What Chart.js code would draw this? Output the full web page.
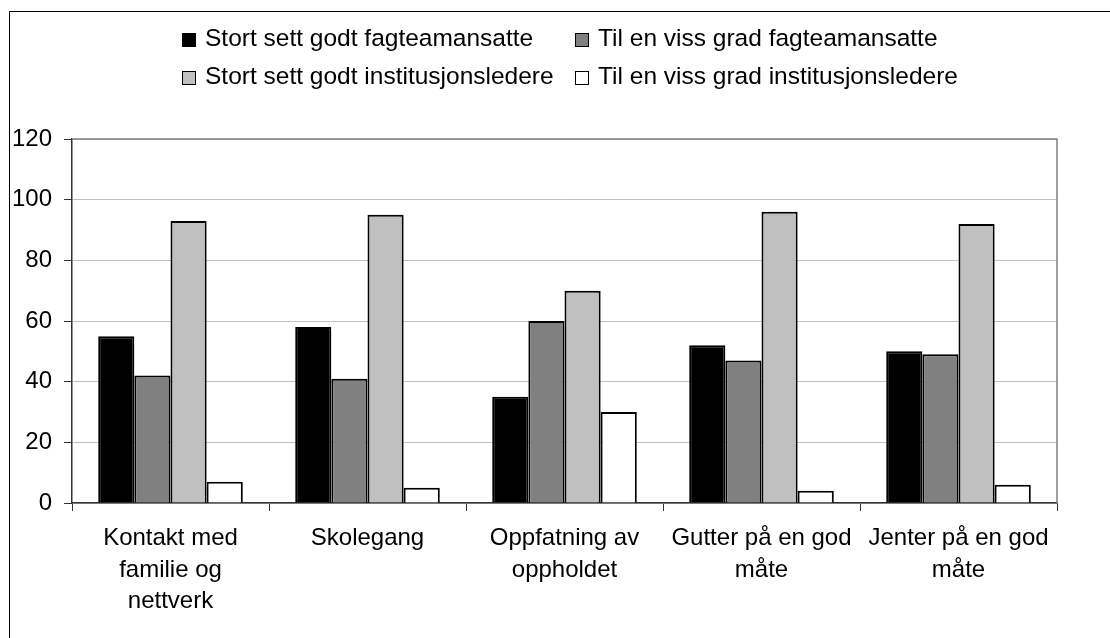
<!DOCTYPE html>
<html>
<head>
<meta charset="utf-8">
<script src="https://cdn.jsdelivr.net/npm/chart.js@4"></script>
<style>
  html, body { margin: 0; padding: 0; background: #fff; }
  body { width: 1110px; height: 638px; position: relative; overflow: hidden; font-family: "Liberation Sans", Arial, sans-serif; }
  #frame { position: absolute; left: 9px; top: 11px; width: 1200px; height: 700px; border-left: 1px solid #000; border-top: 1px solid #000; }
  #chart-box { position: absolute; left: 0; top: 0; width: 1110px; height: 638px; }
  #legend { position: absolute; left: 182px; top: 22px; display: grid; grid-template-columns: 393px auto; row-gap: 6px; font-size: 24.5px; color: #000; }
  .item { display: flex; align-items: center; height: 32px; white-space: nowrap; }
  .swatch { width: 12px; height: 12px; border: 1px solid #000; margin-right: 9px; margin-top: 3px; }
</style>
</head>
<body>
<div id="frame"></div>
<div id="chart-box"><canvas id="chart"></canvas></div>
<div id="legend"></div>
<script>
// Categories (x axis), one entry per group of bars
const categories = [
  ["Kontakt med", "familie og", "nettverk"],
  "Skolegang",
  ["Oppfatning av", "oppholdet"],
  ["Gutter på en god", "måte"],
  ["Jenter på en god", "måte"]
];

// Series names
const seriesNames = [
  "Stort sett godt fagteamansatte",
  "Til en viss grad fagteamansatte",
  "Stort sett godt institusjonsledere",
  "Til en viss grad institusjonsledere"
];

// Series values
const stortSettFagteam = [55, 58, 35, 52, 50];
const vissGradFagteam = [42, 41, 60, 47, 49];
const stortSettInstitusjon = [93, 95, 70, 96, 92];
const vissGradInstitusjon = [7, 5, 30, 4, 6];

// Y axis ticks
const yTicks = [0, 20, 40, 60, 80, 100, 120];

const seriesValues = [stortSettFagteam, vissGradFagteam, stortSettInstitusjon, vissGradInstitusjon];
const seriesColors = ["#000000", "#808080", "#c0c0c0", "#ffffff"];

const FONT = { family: '"Liberation Sans", Arial, sans-serif', size: 24, lineHeight: 1.33 };

// gray border on top and right of the plot area
const plotBorder = {
  id: "plotBorder",
  beforeDatasetsDraw(chart) {
    const a = chart.chartArea;
    const ctx = chart.ctx;
    ctx.save();
    ctx.strokeStyle = "#808080";
    ctx.lineWidth = 1.5;
    ctx.beginPath();
    ctx.moveTo(a.left, a.top);
    ctx.lineTo(a.right, a.top);
    ctx.lineTo(a.right, a.bottom);
    ctx.stroke();
    ctx.restore();
  }
};

const ctx = document.getElementById("chart").getContext("2d");
new Chart(ctx, {
  type: "bar",
  data: {
    labels: categories,
    datasets: seriesNames.map((name, i) => ({
      label: name,
      data: seriesValues[i],
      backgroundColor: seriesColors[i],
      borderColor: "#000000",
      borderWidth: 2,
      categoryPercentage: 0.734,
      barPercentage: 1.0
    }))
  },
  options: {
    responsive: true,
    maintainAspectRatio: false,
    animation: false,
    layout: { padding: { top: 139, right: 53, bottom: 0, left: 0 } },
    plugins: {
      legend: { display: false },
      tooltip: { enabled: false }
    },
    scales: {
      x: {
        grid: { display: true, drawOnChartArea: false, drawTicks: true, tickLength: 8, tickColor: "#333333", offset: true },
        border: { display: true, color: "#333333", width: 1.5 },
        ticks: { color: "#000", font: FONT, padding: 11, maxRotation: 0, autoSkip: false },
        afterFit(scale) { scale.height = 135; }
      },
      y: {
        min: 0,
        max: 120,
        afterBuildTicks(scale) { scale.ticks = yTicks.map(v => ({ value: v })); },
        grid: { color: "#c0c0c0", lineWidth: 1, tickLength: 8, tickColor: "#333333" },
        border: { display: true, color: "#333333", width: 1.5 },
        ticks: { color: "#000", font: FONT, padding: 12 },
        afterFit(scale) { scale.width = 72; }
      }
    }
  },
  plugins: [plotBorder]
});

// legend built from the series arrays
const legend = document.getElementById("legend");
seriesNames.forEach((name, i) => {
  const item = document.createElement("div");
  item.className = "item";
  const sw = document.createElement("span");
  sw.className = "swatch";
  sw.style.background = seriesColors[i];
  const txt = document.createElement("span");
  txt.textContent = name;
  item.appendChild(sw);
  item.appendChild(txt);
  legend.appendChild(item);
});
</script>
</body>
</html>
